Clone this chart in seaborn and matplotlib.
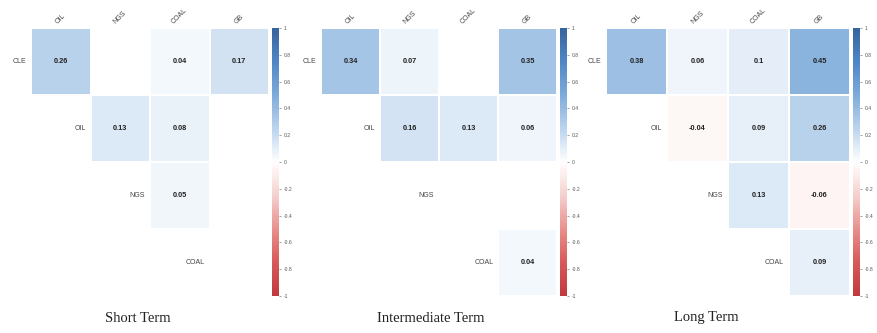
import numpy as np
import pandas as pd
import matplotlib
matplotlib.use('Agg')
import matplotlib.pyplot as plt
from matplotlib.colors import LinearSegmentedColormap
import seaborn as sns

# --- data ---
rows = ['CLE', 'OIL', 'NGS', 'COAL']
cols = ['OIL', 'NGS', 'COAL', 'GB']
titles = ['Short Term', 'Intermediate Term', 'Long Term']

# nan = cell left blank (not significant / lower triangle)
short_vals = [
    [0.26, np.nan, 0.04, 0.17],
    [np.nan, 0.13, 0.08, np.nan],
    [np.nan, np.nan, 0.05, np.nan],
    [np.nan, np.nan, np.nan, np.nan],
]
inter_vals = [
    [0.34, 0.07, np.nan, 0.35],
    [np.nan, 0.16, 0.13, 0.06],
    [np.nan, np.nan, np.nan, np.nan],
    [np.nan, np.nan, np.nan, 0.04],
]
long_vals = [
    [0.38, 0.06, 0.1, 0.45],
    [np.nan, -0.04, 0.09, 0.26],
    [np.nan, np.nan, 0.13, -0.06],
    [np.nan, np.nan, np.nan, 0.09],
]
cbar_ticks = [1, 0.8, 0.6, 0.4, 0.2, 0, -0.2, -0.4, -0.6, -0.8, -1]

sns.set_style('white')
plt.rcParams['font.family'] = ['Liberation Sans', 'DejaVu Sans']

cmap = LinearSegmentedColormap.from_list('corr', [
    '#c0393d', '#d65a5a', '#e8908c', '#f5d0cd', '#ffffff',
    '#bcd4ed', '#7eabda', '#4f86c6', '#36649c'])

fig = plt.figure(figsize=(8.77, 3.33), dpi=100)
W, H = 877, 333

# panel placement in pixels: grid left, grid right, colorbar left
panels = [(31, 269, 272), (321, 557, 560), (606, 850, 853)]
top_px, bot_px = 28, 296
title_x = [138, 431, 706]

for k, vals in enumerate([short_vals, inter_vals, long_vals]):
    gl, gr, cl = panels[k]
    ax = fig.add_axes([gl / W, (H - bot_px) / H, (gr - gl) / W, (bot_px - top_px) / H])
    cax = fig.add_axes([cl / W, (H - bot_px) / H, 7 / W, (bot_px - top_px) / H])

    df = pd.DataFrame(vals, index=rows, columns=cols)
    labels = df.map(lambda v: '' if pd.isna(v) else format(v, 'g'))

    sns.heatmap(df, ax=ax, cbar_ax=cax, cmap=cmap, vmin=-1, vmax=1,
                annot=labels, fmt='', linewidths=0.3, linecolor='white',
                annot_kws={'fontsize': 5.3, 'fontweight': 'bold', 'color': '#222222'})

    ax.xaxis.tick_top()
    ax.set_xticklabels(cols, rotation=45, ha='center', fontsize=5, color='#444444')
    ax.tick_params(axis='x', length=0, pad=2)
    ax.set_yticks([])
    ax.set_xlabel('')
    ax.set_ylabel('')

    # row labels sit just left of the diagonal cell
    for i, name in enumerate(rows):
        ax.text(i - 0.08, i + 0.5, name, ha='right', va='center',
                fontsize=5, color='#444444', clip_on=False)

    cax.set_yticks(cbar_ticks)
    cax.set_yticklabels([format(t, 'g') for t in cbar_ticks])
    cax.tick_params(labelsize=3.6, length=1.5, width=0.4, colors='#555555', pad=2)
    for s in cax.spines.values():
        s.set_visible(False)

    fig.text(title_x[k] / W, (H - 318) / H, titles[k], ha='center', va='center',
             fontsize=10.5, family=['Liberation Serif', 'DejaVu Serif'], color='#222222')

fig.savefig('out.png', dpi=100)
